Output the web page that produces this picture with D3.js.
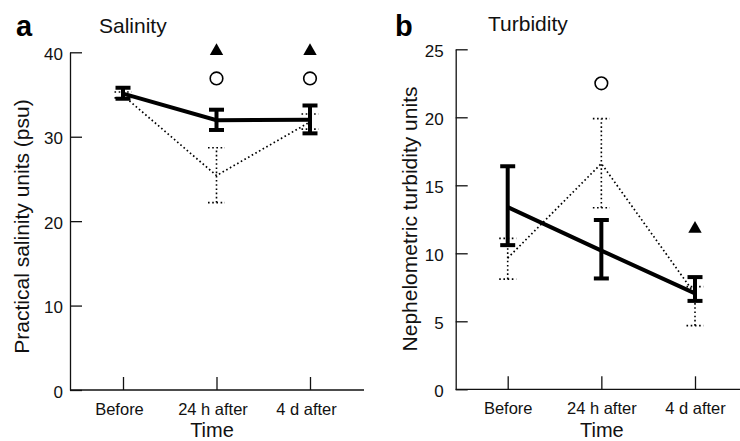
<!DOCTYPE html>
<html><head><meta charset="utf-8">
<script src="https://cdn.jsdelivr.net/npm/d3@7"></script>
<style>body{margin:0;background:#fff}svg{display:block}text{font-family:"Liberation Sans",Arial,sans-serif}</style>
</head><body><svg id="c" width="740" height="441"></svg>
<script>
const categories = ["Before", "24 h after", "4 d after"];

// Salinity (panel a)
const salSolidMean = [35.1, 31.95, 32.0];
const salSolidLow  = [34.5, 30.8, 30.4];
const salSolidHigh = [35.8, 33.2, 33.7];
const salDotMean   = [34.9, 25.4, 31.75];
const salDotLow    = [34.6, 22.2, 30.9];
const salDotHigh   = [35.3, 28.7, 32.7];
const salCircles   = [{cat: "24 h after", v: 36.9}, {cat: "4 d after", v: 36.9}];
const salTriangles = [{cat: "24 h after", v: 40.15}, {cat: "4 d after", v: 40.15}];
const salTicks = [0, 10, 20, 30, 40];

// Turbidity (panel b)
const turSolidMean = [13.4, 10.2, 7.05];
const turSolidLow  = [10.6, 8.15, 6.5];
const turSolidHigh = [16.4, 12.45, 8.25];
const turDotMean   = [9.65, 16.6, 7.0];
const turDotLow    = [8.1, 13.35, 4.68];
const turDotHigh   = [11.1, 19.9, 7.55];
const turCircles   = [{cat: "24 h after", v: 22.5}];
const turTriangles = [{cat: "4 d after", v: 11.8}];
const turTicks = [0, 5, 10, 15, 20, 25];

const svg = d3.select("#c");

function panel(o) {
  const g = svg.append("g");
  const x = d3.scalePoint().domain(categories).range([o.x0, o.x1]);
  const y = d3.scaleLinear().domain([0, o.ymax]).range([o.yb, o.yt]);

  // x axis baseline
  g.append("line").attr("x1", o.ax).attr("x2", o.axEnd).attr("y1", o.yb).attr("y2", o.yb)
    .attr("stroke", "#111").attr("stroke-width", 1.3);
  const xa = g.append("g").attr("transform", `translate(0,${o.yb})`)
    .call(d3.axisBottom(x).tickSizeInner(-13).tickSizeOuter(0).tickPadding(13));
  xa.select(".domain").remove();
  xa.selectAll("line").attr("stroke", "#111").attr("stroke-width", 1.3);
  xa.selectAll("text").attr("font-size", 16.5).attr("fill", "#111").attr("dx", o.xlabDx);

  const ya = g.append("g").attr("transform", `translate(${o.ax},0)`)
    .call(d3.axisLeft(y).tickValues(o.ticks).tickSizeInner(-12).tickSizeOuter(0).tickPadding(o.ypad));
  ya.select(".domain").attr("stroke", "#111").attr("stroke-width", 1.3);
  ya.selectAll("line").attr("stroke", "#111").attr("stroke-width", 1.3);
  ya.selectAll("text").attr("font-size", 17).attr("fill", "#111").attr("dy", "0.42em");

  const line = d3.line().x((d, i) => x(categories[i])).y(d => y(d));

  function bars(mean, lo, hi, dotted) {
    const gg = g.append("g");
    const stroke = dotted ? 1.6 : 4;
    const dash = dotted ? "1.6,2.6" : null;
    const cw = dotted ? 8.5 : 7.5;
    categories.forEach((c, i) => {
      const cx = x(c);
      gg.append("line").attr("x1", cx).attr("x2", cx).attr("y1", y(lo[i])).attr("y2", y(hi[i]))
        .attr("stroke", "#000").attr("stroke-width", stroke).attr("stroke-dasharray", dash);
      [lo[i], hi[i]].forEach(v => {
        gg.append("line").attr("x1", cx - cw).attr("x2", cx + cw).attr("y1", y(v)).attr("y2", y(v))
          .attr("stroke", "#000").attr("stroke-width", stroke).attr("stroke-dasharray", dash);
      });
    });
    gg.append("path").datum(mean).attr("d", line).attr("fill", "none")
      .attr("stroke", "#000").attr("stroke-width", dotted ? 1.7 : 4)
      .attr("stroke-dasharray", dash);
  }
  bars(o.dMean, o.dLow, o.dHigh, true);
  bars(o.sMean, o.sLow, o.sHigh, false);

  g.selectAll(".circ").data(o.circles).join("circle")
    .attr("cx", d => x(d.cat)).attr("cy", d => y(d.v)).attr("r", 6.3)
    .attr("fill", "#fff").attr("stroke", "#000").attr("stroke-width", 1.6);
  g.selectAll(".tri").data(o.triangles).join("path")
    .attr("d", d3.symbol(d3.symbolTriangle, 78))
    .attr("transform", d => `translate(${x(d.cat)},${y(d.v)})`)
    .attr("fill", "#000");

  // labels
  g.append("text").attr("x", o.letterX).attr("y", 36).attr("font-size", 29).attr("font-weight", "bold")
    .attr("fill", "#000").text(o.letter);
  g.append("text").attr("x", o.titleX).attr("y", o.titleY).attr("font-size", 21).attr("fill", "#111").text(o.title);
  g.append("text").attr("x", (o.ax + o.axEnd) / 2 + o.timeDx).attr("y", 436.5).attr("text-anchor", "middle")
    .attr("font-size", 20).attr("fill", "#111").text("Time");
  g.append("text").attr("transform", `translate(${o.ylabX},${o.ylabY}) rotate(-90)`)
    .attr("text-anchor", "middle").attr("font-size", 21).attr("fill", "#111").text(o.ylab);
}

panel({
  x0: 123, x1: 310, ax: 70, axEnd: 364, yb: 390, yt: 52.3, ymax: 40, ticks: salTicks, ypad: 7, xlabDx: -4,
  sMean: salSolidMean, sLow: salSolidLow, sHigh: salSolidHigh,
  dMean: salDotMean, dLow: salDotLow, dHigh: salDotHigh,
  circles: salCircles, triangles: salTriangles,
  letter: "a", letterX: 16, title: "Salinity", titleX: 99, titleY: 32.5, timeDx: -5,
  ylab: "Practical salinity units (psu)", ylabX: 28.5, ylabY: 226.5
});
panel({
  x0: 507.7, x1: 695, ax: 455.7, axEnd: 740, yb: 389.3, yt: 49.3, ymax: 25, ticks: turTicks, ypad: 12, xlabDx: 0,
  sMean: turSolidMean, sLow: turSolidLow, sHigh: turSolidHigh,
  dMean: turDotMean, dLow: turDotLow, dHigh: turDotHigh,
  circles: turCircles, triangles: turTriangles,
  letter: "b", letterX: 395, title: "Turbidity", titleX: 488, titleY: 31, timeDx: 4,
  ylab: "Nephelometric turbidity units", ylabX: 416.5, ylabY: 219
});
</script></body></html>
